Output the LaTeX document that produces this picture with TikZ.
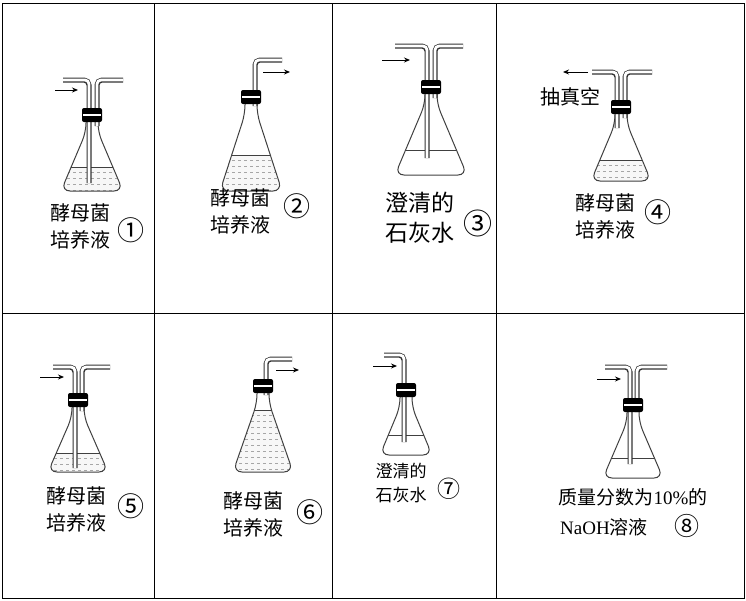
\documentclass[tikz,border=0pt]{standalone}
\usepackage{fontspec}
\setmainfont{Noto Sans CJK SC}
\newfontfamily\serifnum{Liberation Serif}
\usetikzlibrary{arrows.meta}
\tikzset{
  glass/.style={line width=1pt, draw=black!75, rounded corners=9pt},
  flow/.style={-{Stealth[length=6pt,width=5pt]}, line width=0.9pt},
  lab/.style={align=center, inner sep=0pt, font=\fontsize{20}{27}\selectfont},
  num/.style={inner sep=0pt, font=\fontsize{27}{28}\selectfont},
}
\newcommand\myflask[6]{%
  \begin{scope}[shift={(#1,#2)}]
    \begin{scope}
      \clip[rounded corners=9pt] (-6,12)--(-6,24)--(-#4,#3)--(#4,#3)--(6,24)--(6,12)--cycle;
      \ifnum#6=1
        \fill[gray!6] (-#4-2,#5) rectangle (#4+2,#3+2);
        \pgfmathsetmacro\ya{#5+5}\pgfmathsetmacro\yb{#5+11}
        \foreach \yy in {\ya,\yb,...,#3}{\draw[gray!70,line width=0.5pt,dash pattern=on 3pt off 3pt] (-#4,\yy)--(#4,\yy);}
      \fi
      \draw[line width=0.9pt,black!75] (-#4-2,#5)--(#4+2,#5);
    \end{scope}
    \draw[glass] (-6,12)--(-6,24)--(-#4,#3)--(#4,#3)--(6,24)--(6,12);
  \end{scope}}
\newcommand\mystopper[2]{%
  \begin{scope}[shift={(#1,#2)}]
    \fill[rounded corners=2pt] (-10,0) rectangle (10,14);
    \draw[white,line width=1.3pt] (-9,7)--(9,7);
  \end{scope}}
\newcommand\mytube[1]{%
  \draw[line width=5pt,black!80,rounded corners=5pt] #1;
  \draw[white,line width=2.8pt,rounded corners=4pt] #1;}
\begin{document}
\begin{tikzpicture}[x=1pt,y=-1pt]
\useasboundingbox (0,0) rectangle (746,600);
\draw[line width=1pt] (2,3) rectangle (744,598);
\draw[line width=1pt] (2,313)--(744,313);
\draw[line width=1pt] (154,3)--(154,598) (332,3)--(332,598) (496,3)--(496,598);

\myflask{92}{108}{83}{31}{59}{1}
\mytube{(89,183)--(89,80)--(63,80)}
\mytube{(97,126)--(97,80)--(123,80)}
\mystopper{92}{108}
\draw[flow] (55,90)--(78,90);
\node[lab] (t1) at (80,226) {酵母菌\\培养液};
\node[num] (n1) at (131,230) {①};

\myflask{251}{90}{101}{31}{65}{1}
\mytube{(255,106)--(255,60)--(282,60)}
\mystopper{251}{90}
\draw[flow] (263,72)--(290,72);
\node[lab] (t2) at (240,211) {酵母菌\\培养液};
\node[num] (n2) at (297,206) {②};

\myflask{431}{80}{95}{36}{70}{0}
\mytube{(427,158)--(427,46)--(395,46)}
\mytube{(435,98)--(435,46)--(463,46)}
\mystopper{431}{80}
\draw[flow] (382,60)--(410,60);
\node[lab,font=\fontsize{23}{30}\selectfont] (t3) at (420,218) {澄清的\\石灰水};
\node[num,font=\fontsize{29}{30}\selectfont] (n3) at (478,223) {③};

\myflask{621}{100}{81}{30}{60}{1}
\mytube{(617,128)--(617,72)--(592,72)}
\mytube{(625,118)--(625,72)--(652,72)}
\mystopper{621}{100}
\draw[flow] (588,72)--(563,72);
\node[lab] (v4) at (570,97) {抽真空};
\node[lab] (t4) at (605,216) {酵母菌\\培养液};
\node[num] (n4) at (658,212) {④};

\myflask{78}{393}{79}{30}{60}{1}
\mytube{(75,468)--(75,367)--(53,367)}
\mytube{(82,411)--(82,367)--(110,367)}
\mystopper{78}{393}
\draw[flow] (40,377)--(64,377);
\node[lab] (t5) at (76,509) {酵母菌\\培养液};
\node[num] (n5) at (131,506) {⑤};

\myflask{263}{379}{93}{30}{31}{1}
\mytube{(266,395)--(266,359)--(292,359)}
\mystopper{263}{379}
\draw[flow] (276,370)--(299,370);
\node[lab] (t6) at (253,514) {酵母菌\\培养液};
\node[num] (n6) at (310,512) {⑥};

\myflask{406}{383}{72}{26}{52}{0}
\mytube{(404,442)--(404,355)--(384,355)}
\mystopper{406}{383}
\draw[flow] (373,366)--(397,366);
\node[lab,font=\fontsize{17}{24}\selectfont] (t7) at (401,483) {澄清的\\石灰水};
\node[num,font=\fontsize{23}{24}\selectfont] (n7) at (449,489) {⑦};

\myflask{633}{398}{80}{30}{60}{0}
\mytube{(630,464)--(630,367)--(605,367)}
\mytube{(637,412)--(637,367)--(667,367)}
\mystopper{633}{398}
\draw[flow] (597,379)--(621,379);
\node[lab,font=\fontsize{19}{24}\selectfont] (t8) at (633,497) {质量分数为{\serifnum 10\%}的};
\node[lab,font=\fontsize{19}{24}\selectfont] (u8) at (604,527) {{\serifnum NaOH}溶液};
\node[num,font=\fontsize{25}{26}\selectfont] (n8) at (687,526) {⑧};
\end{tikzpicture}
\end{document}
